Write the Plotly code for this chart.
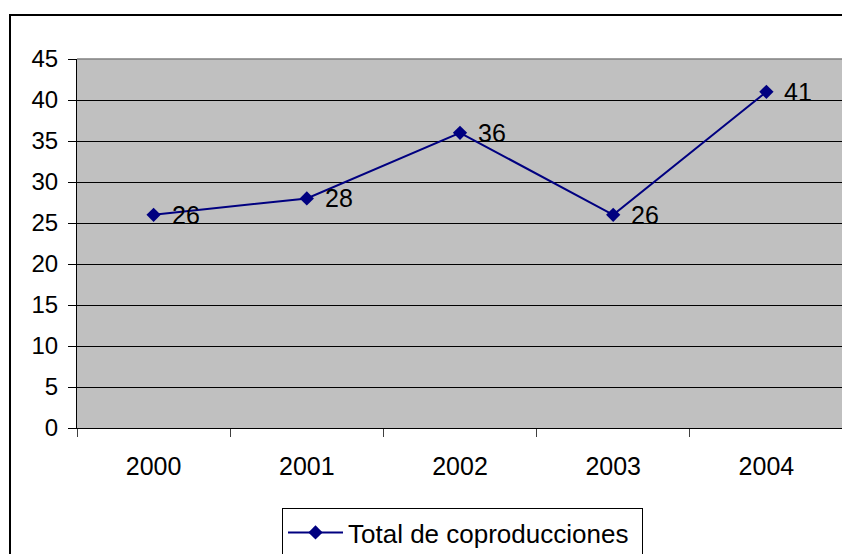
import plotly.graph_objects as go

years = ["2000", "2001", "2002", "2003", "2004"]
totals = [26, 28, 36, 26, 41]
series_name = "Total de coproducciones"
y_ticks = [0, 5, 10, 15, 20, 25, 30, 35, 40, 45]

# page body has an 8px margin, so the figure is offset by 8px
OFF = 8
W, H = 850 - OFF, 554 - OFF
L = 77 - OFF
T = 59 - OFF
R = W - (843 - OFF)
B = H - (428 - OFF)
pw, ph = W - L - R, H - T - B

def px_x(sx):
    return (sx - OFF - L) / pw

def px_y(sy):
    return (H - B - (sy - OFF)) / ph

FONT = "Liberation Sans, Arial"

fig = go.Figure()
fig.add_trace(go.Scatter(
    x=years, y=totals, name=series_name,
    mode="lines+markers",
    line=dict(color="#000080", width=2),
    marker=dict(symbol="diamond", size=11, color="#000080"),
    cliponaxis=False,
))

annotations = [
    dict(x=i, y=v, xref="x", yref="y", text=str(v), showarrow=False,
         xanchor="left", yanchor="middle", xshift=16, yshift=0,
         font=dict(family=FONT, size=25, color="black"))
    for i, v in enumerate(totals)
]

fig.update_layout(
    width=W, height=H,
    margin=dict(l=L, r=R, t=T, b=B, autoexpand=False),
    paper_bgcolor="white",
    plot_bgcolor="#C0C0C0",
    font=dict(family=FONT, size=25, color="black"),
    showlegend=True,
    legend=dict(
        xref="container", yref="container",
        x=(282 - OFF) / W, xanchor="left", y=1 - (508 - OFF) / H, yanchor="top",
        orientation="h",
        bordercolor="black", borderwidth=1, bgcolor="white",
        font=dict(size=26),
        itemwidth=55,
        entrywidth=289,
    ),
    annotations=annotations,
    xaxis=dict(
        type="category", range=[-0.5, 4.5], automargin=False,
        showline=True, linecolor="black", linewidth=1,
        ticks="outside", tickson="boundaries", ticklen=8, tickcolor="#404040",
        showgrid=False, ticklabelstandoff=16,
        tickfont=dict(size=25),
    ),
    yaxis=dict(
        range=[0, 45], tickvals=y_ticks, automargin=False,
        showline=True, linecolor="black", linewidth=1,
        ticks="outside", ticklen=8, tickcolor="black",
        showgrid=True, gridcolor="black", gridwidth=1,
        zeroline=False, ticklabelstandoff=5,
        tickfont=dict(size=24),
    ),
    shapes=[
        dict(type="line", xref="paper", yref="paper", x0=0, x1=1, y0=1, y1=1,
             line=dict(color="#808080", width=1.5), layer="above"),
        dict(type="line", xref="paper", yref="paper", x0=1, x1=1, y0=0, y1=1,
             line=dict(color="#808080", width=1.5), layer="above"),
        dict(type="rect", xref="paper", yref="paper",
             x0=px_x(10), x1=px_x(880), y0=px_y(590), y1=px_y(15),
             line=dict(color="black", width=2), layer="above"),
    ],
)

fig.write_html("out.html")
